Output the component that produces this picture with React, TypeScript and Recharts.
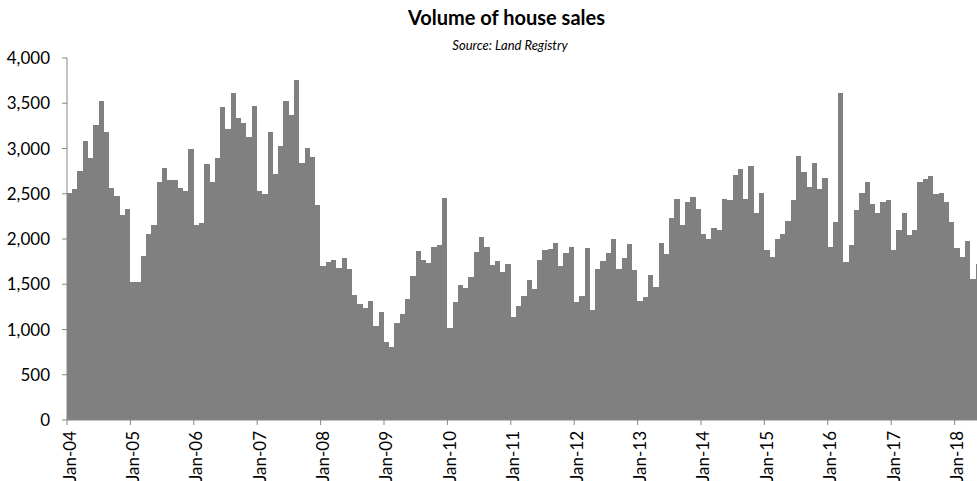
import React from "react";
import { BarChart, Bar, XAxis, YAxis } from "recharts";

// monthly volume of house sales, Jan-04 .. May-18
const years = ["04", "05", "06", "07", "08", "09", "10", "11", "12", "13", "14", "15", "16", "17", "18"];
const monthNames = ["Jan", "Feb", "Mar", "Apr", "May", "Jun", "Jul", "Aug", "Sep", "Oct", "Nov", "Dec"];

const sales2004 = [2510, 2555, 2750, 3085, 2900, 3255, 3525, 3180, 2565, 2475, 2260, 2330];
const sales2005 = [1525, 1530, 1815, 2055, 2160, 2625, 2780, 2650, 2655, 2560, 2525, 2995];
const sales2006 = [2160, 2175, 2825, 2635, 2900, 3460, 3215, 3615, 3340, 3285, 3125, 3470];
const sales2007 = [2525, 2500, 3185, 2720, 3030, 3530, 3375, 3755, 2835, 3010, 2910, 2380];
const sales2008 = [1705, 1745, 1770, 1685, 1795, 1670, 1385, 1285, 1235, 1310, 1040, 1190];
const sales2009 = [860, 805, 1070, 1175, 1340, 1590, 1865, 1770, 1740, 1910, 1930, 2455];
const sales2010 = [1020, 1300, 1495, 1460, 1580, 1860, 2025, 1915, 1715, 1760, 1630, 1725];
const sales2011 = [1140, 1265, 1370, 1550, 1445, 1770, 1880, 1895, 1960, 1700, 1840, 1915];
const sales2012 = [1305, 1365, 1905, 1220, 1665, 1755, 1845, 2005, 1670, 1795, 1950, 1655];
const sales2013 = [1315, 1355, 1605, 1470, 1955, 1835, 2235, 2440, 2150, 2410, 2465, 2335];
const sales2014 = [2055, 1995, 2125, 2095, 2445, 2430, 2705, 2775, 2440, 2805, 2290, 2510];
const sales2015 = [1875, 1805, 2000, 2055, 2200, 2430, 2920, 2735, 2570, 2840, 2555, 2670];
const sales2016 = [1915, 2190, 3615, 1745, 1935, 2325, 2510, 2630, 2385, 2285, 2410, 2430];
const sales2017 = [1875, 2095, 2285, 2040, 2100, 2630, 2660, 2700, 2500, 2510, 2410, 2190];
const sales2018 = [1900, 1800, 1980, 1560, 1720];

const yTicks = [0, 500, 1000, 1500, 2000, 2500, 3000, 3500, 4000];

const salesByYear = [
  sales2004, sales2005, sales2006, sales2007, sales2008, sales2009, sales2010, sales2011,
  sales2012, sales2013, sales2014, sales2015, sales2016, sales2017, sales2018,
];

const data = salesByYear.flatMap((vals, yi) =>
  vals.map((v, mi) => ({ month: `${monthNames[mi]}-${years[yi]}`, sales: v }))
);

const CHART_W = 985;
const CHART_H = 481;
const Y_AXIS_W = 67;
const MARGIN = { top: 58, right: 4, left: 0, bottom: 0 };
const PLOT_W = CHART_W - MARGIN.left - MARGIN.right - Y_AXIS_W;
const BAND = PLOT_W / data.length;
const AXIS = "#868686";
const BAR = "#808080";
const FONT = "Lato, 'Open Sans', sans-serif";

// Excel puts the year ticks on the left edge of each Jan bar, not its centre
const JanTick = (props: any) => {
  const { x, y, payload } = props;
  const tx = x - BAND / 2;
  return (
    <g>
      <line x1={tx} y1={y} x2={tx} y2={y + 5} stroke={AXIS} />
      <text
        transform={`translate(${tx + 2},${y + 11}) rotate(-90)`}
        textAnchor="end"
        dominantBaseline="central"
        fontSize={17}
        fontFamily={FONT}
        fill="#000"
      >
        {payload.value}
      </text>
    </g>
  );
};

// snap to whole pixels; the epsilon keeps neighbours agreeing on x.5 edges
const snap = (v: number) => Math.round(v + 1e-4);

// recharts floors the bar width to whole pixels, which leaves thin white seams;
// stretch each bar over its full band and snap the sides to whole pixels
const FullBar = (props: any) => {
  const { x, y, width, height } = props;
  if (!height || height <= 0) return null;
  const cx = x + width / 2;
  const left = snap(cx - BAND / 2);
  const right = snap(cx + BAND / 2);
  return <rect x={left} y={y} width={right - left} height={height} fill={BAR} shapeRendering="crispEdges" />;
};

export default function App() {
  return (
    <div
      style={{
        position: "absolute",
        left: 0,
        top: 0,
        width: 977,
        height: 481,
        overflow: "hidden",
        background: "#fff",
      }}
    >
      <div
        style={{
          position: "absolute",
          left: 0,
          width: 1013,
          top: 5,
          textAlign: "center",
          fontFamily: FONT,
          fontWeight: 700,
          fontSize: 20,
          color: "#000",
        }}
      >
        Volume of house sales
      </div>
      <div
        style={{
          position: "absolute",
          left: 0,
          width: 1020,
          top: 37,
          textAlign: "center",
          fontFamily: FONT,
          fontStyle: "italic",
          fontSize: 13,
          color: "#000",
        }}
      >
        Source: Land Registry
      </div>
      <BarChart width={CHART_W} height={CHART_H} data={data} margin={MARGIN} barCategoryGap={0}>
        <XAxis
          dataKey="month"
          height={61}
          interval={11}
          axisLine={{ stroke: AXIS }}
          tickLine={false}
          tickSize={0}
          tickMargin={0}
          tick={<JanTick />}
        />
        <YAxis
          width={Y_AXIS_W}
          domain={[0, 4000]}
          ticks={yTicks}
          interval={0}
          axisLine={{ stroke: AXIS }}
          tickLine={{ stroke: AXIS }}
          tickSize={5}
          tickMargin={12}
          tickFormatter={(v: number) => v.toLocaleString("en-US")}
          tick={{ fontSize: 17, fontFamily: FONT, fill: "#000" }}
        />
        <Bar dataKey="sales" fill={BAR} shape={<FullBar />} isAnimationActive={false} />
      </BarChart>
    </div>
  );
}
